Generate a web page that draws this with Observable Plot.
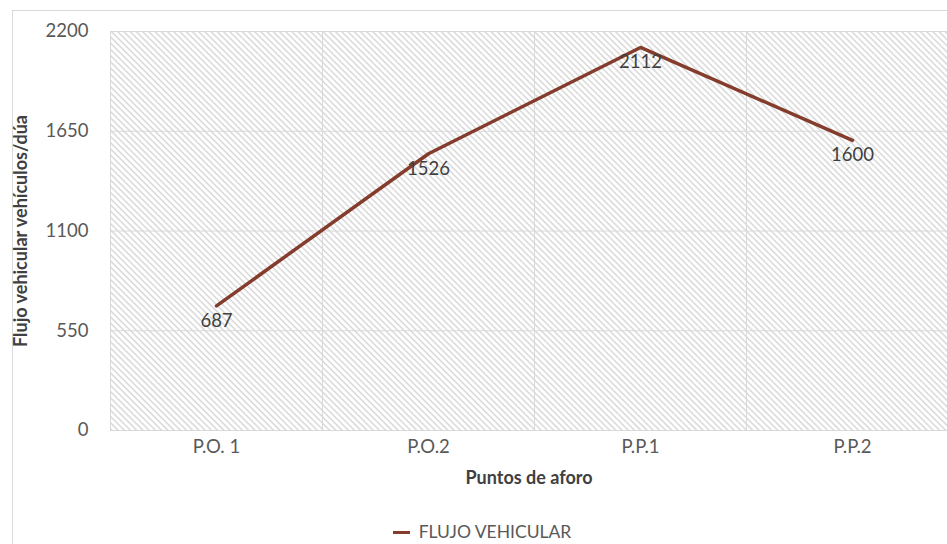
<!DOCTYPE html>
<html>
<head>
<meta charset="utf-8">
<script src="https://cdn.jsdelivr.net/npm/d3@7"></script>
<script src="https://cdn.jsdelivr.net/npm/@observablehq/plot@0.6"></script>
<style>
  body { margin: 0; background: #fff; font-family: Lato, "Open Sans", sans-serif; }
  #wrap { position: relative; width: 947px; height: 544px; overflow: hidden; }
  #border { position: absolute; left: 12px; top: 10px; width: 960px; height: 560px;
            border-left: 1px solid #d9d9d9; border-top: 1px solid #d9d9d9; }
  #chart { position: absolute; left: 0; top: 0; }
  #legend { position: absolute; left: 0; width: 964px; top: 522px; line-height: 20px; text-align: center;
            font-size: 17.5px; color: #595959; }
  #legend .sw { display: inline-block; width: 17px; height: 3px; background: #843c2c;
                vertical-align: middle; margin-right: 9px; position: relative; top: -1px; }
</style>
</head>
<body>
<div id="wrap">
  <div id="border"></div>
  <div id="chart"></div>
  <div id="legend"><span class="sw"></span>FLUJO VEHICULAR</div>
</div>
<script>
// Vehicle counts per counting point
const puntos = ["P.O. 1", "P.O.2", "P.P.1", "P.P.2"];
const flujo = [687, 1526, 2112, 1600];
const yTicks = [0, 550, 1100, 1650, 2200];
const yTitle = "Flujo vehicular vehículos/dúa";
const xTitle = "Puntos de aforo";

const data = puntos.map((p, i) => ({i, punto: p, valor: flujo[i]}));
const bandEdges = puntos.map((_, i) => i - 0.5);

const lineColor = "#843c2c";
const gridColor = "#d9d9d9";

const plot = Plot.plot({
  width: 947,
  height: 544,
  marginLeft: 110,
  marginTop: 31,
  marginBottom: 114,
  marginRight: 0,
  style: {fontFamily: "Lato, 'Open Sans', sans-serif", background: "transparent"},
  x: {type: "linear", domain: [-0.5, puntos.length - 0.5], range: [110, 958]},
  y: {domain: [0, 2200]},
  marks: [
    Plot.frame({fill: "url(#hatch)", stroke: null}),
    Plot.ruleY(yTicks, {stroke: gridColor, strokeWidth: 1}),
    Plot.ruleX(bandEdges, {stroke: gridColor, strokeWidth: 1}),
    Plot.axisY({ticks: yTicks, tickFormat: d => String(d), tickSize: 0, tickPadding: 22, fontSize: 18.5, color: "#595959", label: null}),
    Plot.axisY({ticks: [], label: yTitle, labelArrow: false, labelAnchor: "center", labelOffset: 96, fontSize: 18, fontWeight: "bold", color: "#404040"}),
    Plot.axisX({ticks: data.map(d => d.i), tickFormat: i => puntos[i], tickSize: 0, tickPadding: 9, fontSize: 18.5, color: "#595959", label: null}),
    Plot.axisX({ticks: [], label: xTitle, labelArrow: false, labelAnchor: "center", labelOffset: 53, fontSize: 18, fontWeight: "bold", color: "#404040"}),
    Plot.lineY(data, {x: "i", y: "valor", stroke: lineColor, strokeWidth: 3.5, strokeLinejoin: "miter"}),
    Plot.text(data, {x: "i", y: "valor", text: d => String(d.valor), dy: 15, fontSize: 18.5, fill: "#404040"})
  ]
});

// Diagonal hatch used as the plot-area fill
const ns = "http://www.w3.org/2000/svg";
const defs = document.createElementNS(ns, "defs");
defs.innerHTML = `<pattern id="hatch" patternUnits="userSpaceOnUse" width="4.4" height="4.4" patternTransform="rotate(45)">
  <rect width="4.4" height="4.4" fill="#ffffff"></rect>
  <rect y="0" width="4.4" height="1.4" fill="#d6d6d6"></rect>
</pattern>`;
plot.insertBefore(defs, plot.firstChild);

document.getElementById("chart").appendChild(plot);
</script>
</body>
</html>
